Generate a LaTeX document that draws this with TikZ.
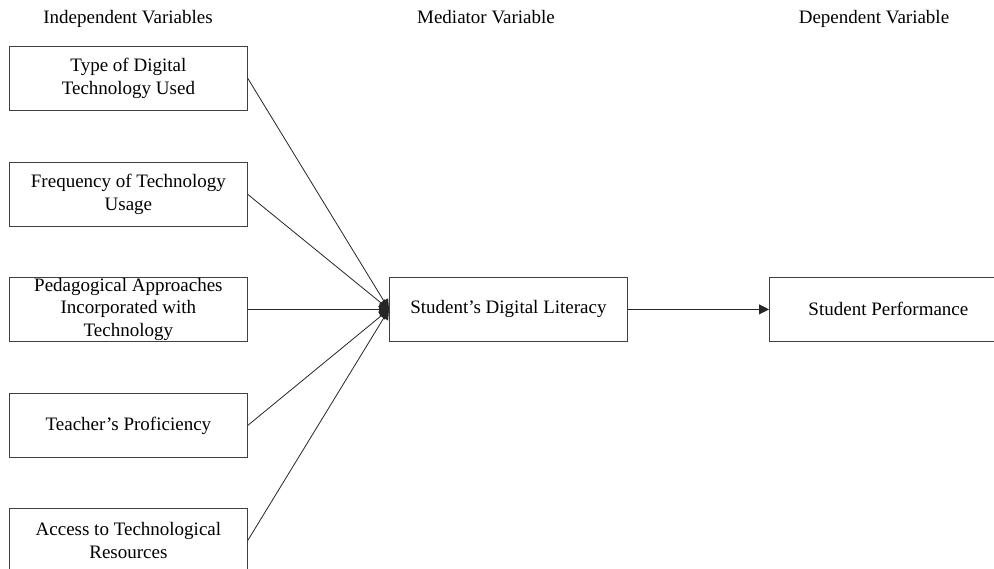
\documentclass[tikz,border=0pt]{standalone}
\usepackage{fontspec}
\setmainfont{Liberation Serif}
\usetikzlibrary{arrows.meta}
\begin{document}
\begin{tikzpicture}[x=1pt,y=-1pt,
  box/.style={draw=black!75, line width=0.8pt, minimum width=238pt, minimum height=64pt,
    inner sep=0pt, align=center, font=\fontsize{19}{22.5}\selectfont, anchor=north west},
  head/.style={font=\fontsize{19}{22.5}\selectfont, inner sep=0pt, anchor=base},
  link/.style={draw=black!85, line width=0.8pt, -{Triangle[length=10pt,width=10pt]}}]
\useasboundingbox (0,0) rectangle (994,569);
\fill[white] (0,0) rectangle (994,569);
% headers
\node[head] (h1) at (128,24) {Independent Variables};
\node[head] (h2) at (486,24) {Mediator Variable};
\node[head] (h3) at (874,24) {Dependent Variable};
% independent variables
\node[box] (iv1) at (9,46) {Type of Digital\\Technology Used};
\node[box] (iv2) at (9,162) {Frequency of Technology\\Usage};
\node[box] (iv3) at (9,277) {Pedagogical Approaches\\Incorporated with\\Technology};
\node[box] (iv4) at (9,393) {Teacher’s Proficiency};
\node[box] (iv5) at (9,508) {Access to Technological\\Resources};
% mediator and dependent
\node[box] (med) at (389,277) {Student’s Digital Literacy};
\node[box] (dep) at (769,277) {Student Performance};
% connectors
\foreach \n in {iv1,iv2,iv3,iv4,iv5}
  \draw[link] (\n.east) -- (med.west);
\draw[link] (med.east) -- (dep.west);
\end{tikzpicture}
\end{document}
